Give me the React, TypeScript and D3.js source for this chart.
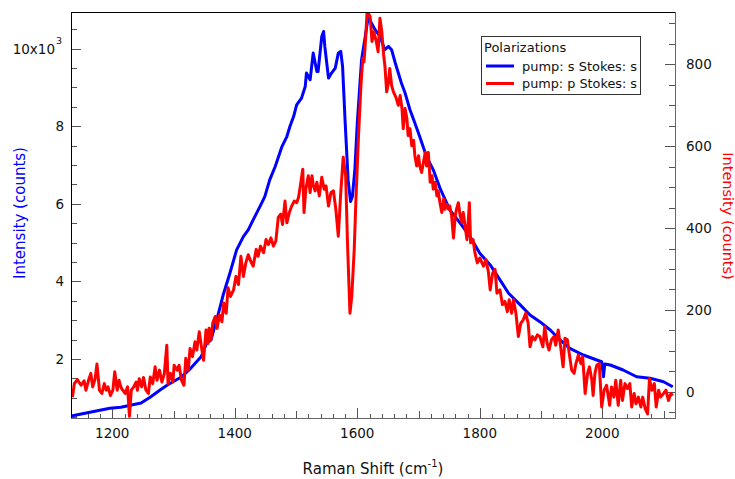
import React from 'react';
import * as d3 from 'd3';

const W = 735;
const H = 479;
const PLOT = { left: 71, right: 675, top: 12, bottom: 418 };

const shiftDomain: [number, number] = [1132.6, 2118.7];
const leftDomain: [number, number] = [479, 10946];
const rightDomain: [number, number] = [-64, 928];

const shiftTicks = [1200, 1400, 1600, 1800, 2000];
const leftTicks = [2000, 4000, 6000, 8000, 10000];
const leftTickLabels = ['2', '4', '6', '8', '10x10'];
const rightTicks = [0, 200, 400, 600, 800];

const legendTitle = 'Polarizations';
const seriesNames = ['pump: s Stokes: s', 'pump: p Stokes: s'];

// pump s / Stokes s (left axis, counts)
const ssSeries: [number, number][] = [
  [1133, 529], [1196, 728], [1214, 754], [1247, 865], [1263, 1027], [1278, 1200], [1290, 1329],
  [1312, 1528], [1328, 1760], [1345, 2059], [1354, 2405], [1361, 2490], [1372, 3100], [1381, 3650],
  [1392, 4212], [1403, 4813], [1414, 5156], [1422, 5329], [1430, 5587], [1441, 5930], [1449, 6188],
  [1457, 6619], [1466, 6962], [1477, 7477], [1485, 7735], [1490, 7993], [1496, 8251], [1501, 8553],
  [1509, 8726], [1515, 9025], [1517, 9371], [1523, 9199], [1528, 9887], [1534, 9412], [1536, 9412],
  [1542, 10315], [1545, 10444], [1547, 10057], [1553, 9242], [1558, 9371], [1564, 9500], [1569, 9887],
  [1573, 9929], [1576, 9542], [1580, 8166], [1585, 6618], [1589, 6058], [1592, 6188], [1596, 6877],
  [1600, 8082], [1604, 9027], [1607, 9716], [1613, 10317],
  [1618, 10833], [1623, 10662], [1629, 10490], [1637, 10317], [1645, 9974], [1651, 10059], [1656, 9974],
  [1662, 9631], [1667, 9373], [1672, 9115], [1678, 8857], [1686, 8425], [1694, 8083], [1702, 7729],
  [1713, 7220], [1724, 6877], [1735, 6405], [1751, 5845], [1768, 5502], [1784, 5156], [1800, 4728],
  [1817, 4426], [1833, 4039], [1847, 3695], [1866, 3394], [1882, 3135], [1898, 2963], [1915, 2748],
  [1931, 2490], [1947, 2276], [1969, 2103], [1991, 1974], [1999, 1930], [2002, 1543], [2004, 1871],
  [2013, 1845], [2034, 1716], [2056, 1543], [2078, 1502], [2100, 1414], [2115, 1285],
];

// pump p / Stokes s (right axis, counts)
const psSeries: [number, number][] = [
  [1135, -13], [1138, 20], [1143, 30], [1149, 16], [1154, 27], [1157, 4], [1162, 32], [1165, 45],
  [1168, 12], [1172, 32], [1175, 68], [1179, 4], [1183, -4], [1187, 20], [1190, 4], [1193, 12],
  [1197, -9], [1201, 4], [1204, 49], [1208, 4], [1211, 28], [1214, 12], [1217, 4], [1221, -4],
  [1225, 12], [1228, -60], [1231, 4], [1235, 12], [1239, 24], [1241, 4], [1244, 32], [1248, 12],
  [1251, 35], [1255, 4], [1259, -4], [1262, 36], [1266, 20], [1270, 61], [1273, 28], [1277, 53],
  [1281, 24], [1285, 45], [1289, 114], [1291, 20], [1295, 45], [1299, 24], [1301, 65], [1306, 53],
  [1309, 65], [1313, 28], [1317, 16], [1320, 82], [1324, 53], [1327, 106], [1331, 86], [1335, 122],
  [1338, 102], [1342, 147], [1346, 106], [1349, 77], [1353, 151], [1356, 118], [1358, 155], [1361, 127],
  [1364, 168], [1368, 184], [1371, 155], [1375, 188], [1379, 171], [1382, 217], [1386, 192], [1389, 254],
  [1393, 233], [1398, 249], [1402, 282], [1406, 262], [1410, 331], [1414, 282], [1418, 315], [1422, 335],
  [1426, 319], [1430, 307], [1435, 348], [1438, 331], [1442, 356], [1447, 340], [1451, 372], [1455, 360],
  [1459, 376], [1463, 356], [1467, 368], [1471, 426], [1475, 434], [1478, 409], [1482, 466], [1485, 413],
  [1489, 438], [1493, 454], [1497, 466], [1501, 462], [1504, 475], [1507, 503], [1511, 544], [1513, 438],
  [1516, 495], [1520, 528], [1523, 487], [1526, 528], [1528, 507], [1531, 491], [1534, 512], [1538, 479],
  [1542, 524], [1546, 495], [1549, 503], [1553, 454], [1557, 487], [1561, 491], [1565, 446], [1569, 380],
  [1573, 487], [1577, 573], [1581, 528], [1584, 364], [1588, 192], [1591, 233], [1595, 348], [1598, 479],
  [1602, 626], [1606, 749], [1609, 815], [1611, 806], [1614, 872], [1616, 930], [1621, 917], [1624, 856],
  [1627, 880], [1631, 856], [1634, 831], [1637, 913], [1640, 880], [1643, 823], [1645, 798], [1648, 733],
  [1651, 757], [1653, 790], [1656, 749], [1659, 733], [1663, 720], [1667, 700], [1670, 724], [1673, 692],
  [1675, 643], [1678, 692], [1681, 667], [1683, 626], [1686, 643], [1689, 601], [1692, 614], [1694, 577],
  [1697, 552], [1700, 577], [1702, 552], [1705, 536], [1708, 561], [1711, 585], [1713, 552], [1716, 585],
  [1719, 512], [1722, 528], [1724, 495], [1727, 512], [1730, 479], [1732, 491], [1735, 462], [1738, 438],
  [1741, 471], [1743, 446], [1746, 458], [1749, 446], [1751, 454], [1754, 430], [1757, 376], [1760, 430],
  [1762, 446], [1765, 462], [1768, 430], [1771, 413], [1773, 438], [1776, 405], [1779, 372], [1781, 413],
  [1783, 462], [1785, 364], [1789, 372], [1792, 340], [1796, 315], [1800, 327], [1806, 307], [1810, 323],
  [1814, 294], [1817, 249], [1821, 290], [1825, 299], [1828, 241], [1833, 249], [1837, 213], [1841, 221],
  [1845, 196], [1848, 225], [1852, 192], [1855, 225], [1859, 192], [1863, 135], [1867, 168], [1871, 176],
  [1875, 192], [1879, 168], [1882, 110], [1886, 135], [1890, 127], [1894, 139], [1898, 135], [1903, 110],
  [1906, 159], [1910, 118], [1913, 102], [1917, 127], [1921, 135], [1924, 114], [1928, 151], [1932, 110],
  [1936, 61], [1939, 131], [1943, 127], [1946, 94], [1950, 53], [1954, 45], [1957, 69], [1961, 90],
  [1965, 69], [1968, 86], [1972, -4], [1976, 45], [1979, 61], [1983, 28], [1985, -9], [1988, 45],
  [1991, 65], [1995, 69], [1999, -37], [2003, 4], [2007, 16], [2012, -33], [2015, 12], [2019, -13],
  [2022, 28], [2026, -33], [2030, 28], [2033, -21], [2037, 20], [2041, 8], [2045, 20], [2048, -37],
  [2052, -4], [2055, -29], [2059, -13], [2063, -37], [2066, -13], [2070, -41], [2074, -54], [2077, 32],
  [2081, 4], [2085, 20], [2088, -37], [2092, 4], [2095, -13], [2100, -4], [2104, 4], [2108, -21],
  [2112, -4], [2115, -9],
];

const FONT = '"DejaVu Sans", Verdana, sans-serif';
const BLUE = '#0000ff';
const RED = '#ff0000';
const TICK = '#555';

export default function App() {
  const x = d3.scaleLinear().domain(shiftDomain).range([PLOT.left, PLOT.right]);
  const yL = d3.scaleLinear().domain(leftDomain).range([PLOT.bottom, PLOT.top]);
  const yR = d3.scaleLinear().domain(rightDomain).range([PLOT.bottom, PLOT.top]);

  const lineL = d3.line<[number, number]>().x((d) => x(d[0])).y((d) => yL(d[1]));
  const lineR = d3.line<[number, number]>().x((d) => x(d[0])).y((d) => yR(d[1]));

  const xMinor = d3.range(1140, shiftDomain[1], 20);
  const leftMinor = d3.range(500, leftDomain[1], 500);
  const rightMinor = d3.range(-50, rightDomain[1], 50);

  return (
    <svg
      width={W}
      height={H}
      viewBox={`0 0 ${W} ${H}`}
      style={{ position: 'absolute', left: 0, top: 0, background: '#fff' }}
      fontFamily={FONT}
    >
      <defs>
        <clipPath id="plotClip">
          <rect x={PLOT.left} y={PLOT.top} width={PLOT.right - PLOT.left} height={PLOT.bottom - PLOT.top} />
        </clipPath>
      </defs>
      <rect x={0} y={0} width={W} height={H} fill="#fff" />

      {/* bottom axis ticks */}
      {xMinor.map((v) => {
        const len = v % 200 === 0 ? 10 : v % 100 === 0 ? 7 : 4;
        const px = Math.round(x(v)) + 0.5;
        return <line key={`xm${v}`} x1={px} x2={px} y1={PLOT.bottom} y2={PLOT.bottom - len} stroke={TICK} strokeWidth={1} />;
      })}
      {shiftTicks.map((v) => (
        <text key={`xl${v}`} x={x(v)} y={438} textAnchor="middle" fontSize={13.5} fill="#111">
          {v}
        </text>
      ))}

      {/* left axis ticks */}
      {leftMinor.map((v) => {
        const len = v % 2000 === 0 ? 10 : 6;
        const py = Math.round(yL(v)) + 0.5;
        return <line key={`lm${v}`} x1={PLOT.left} x2={PLOT.left + len} y1={py} y2={py} stroke={TICK} strokeWidth={1} />;
      })}
      {leftTicks.map((v, i) => (
        <text key={`ll${v}`} x={i === leftTicks.length - 1 ? 55 : 64} y={yL(v)} dy="0.36em" textAnchor="end" fontSize={13.5} fill="#111">
          {leftTickLabels[i]}
        </text>
      ))}
      <text x={56} y={yL(10000) - 5} fontSize={9.5} fill="#111">3</text>

      {/* right axis ticks */}
      {rightMinor.map((v) => {
        const len = v % 200 === 0 ? 10 : 6;
        const py = Math.round(yR(v)) + 0.5;
        return <line key={`rm${v}`} x1={PLOT.right} x2={PLOT.right - len} y1={py} y2={py} stroke={TICK} strokeWidth={1} />;
      })}
      {rightTicks.map((v) => (
        <text key={`rl${v}`} x={686} y={yR(v)} dy="0.36em" textAnchor="start" fontSize={13.5} fill="#111">
          {v}
        </text>
      ))}

      {/* data */}
      <g clipPath="url(#plotClip)">
        <path d={lineL(ssSeries) || ''} fill="none" stroke={BLUE} strokeWidth={3} strokeLinejoin="round" />
        <path d={lineR(psSeries) || ''} fill="none" stroke={RED} strokeWidth={3} strokeLinejoin="round" />
      </g>

      {/* frame */}
      <line x1={PLOT.left + 0.5} x2={PLOT.left + 0.5} y1={PLOT.top} y2={PLOT.bottom} stroke="#000" />
      <line x1={PLOT.left} x2={PLOT.right} y1={PLOT.top + 0.5} y2={PLOT.top + 0.5} stroke="#000" />
      <line x1={PLOT.right + 0.5} x2={PLOT.right + 0.5} y1={PLOT.top} y2={PLOT.bottom + 1} stroke="#666" />
      <line x1={PLOT.left} x2={PLOT.right + 1} y1={PLOT.bottom + 0.5} y2={PLOT.bottom + 0.5} stroke="#666" />

      {/* axis titles */}
      <text x={373} y={474} textAnchor="middle" fontSize={15} fill="#111">
        Raman Shift (cm
        <tspan fontSize={10} dy={-7}>-1</tspan>
        <tspan dy={7}>)</tspan>
      </text>
      <text transform="translate(25,213) rotate(-90)" textAnchor="middle" fontSize={15} fill={BLUE}>
        Intensity (counts)
      </text>
      <text transform="translate(722.5,216) rotate(90)" textAnchor="middle" fontSize={14.5} fill={RED}>
        Intensity (counts)
      </text>

      {/* legend */}
      <g>
        <rect x={481.5} y={36.5} width={159} height={58} fill="#fff" stroke="#333" strokeWidth={1} />
        <text x={484} y={52} fontSize={13} fill="#111">{legendTitle}</text>
        {seriesNames.map((name, i) => (
          <g key={name}>
            <line x1={486} x2={514} y1={66 + i * 17.5} y2={66 + i * 17.5} stroke={i === 0 ? BLUE : RED} strokeWidth={3} />
            <text x={522} y={70.5 + i * 17.5} fontSize={12.5} fill="#111" textLength={115} lengthAdjust="spacingAndGlyphs">
              {name}
            </text>
          </g>
        ))}
      </g>
    </svg>
  );
}
